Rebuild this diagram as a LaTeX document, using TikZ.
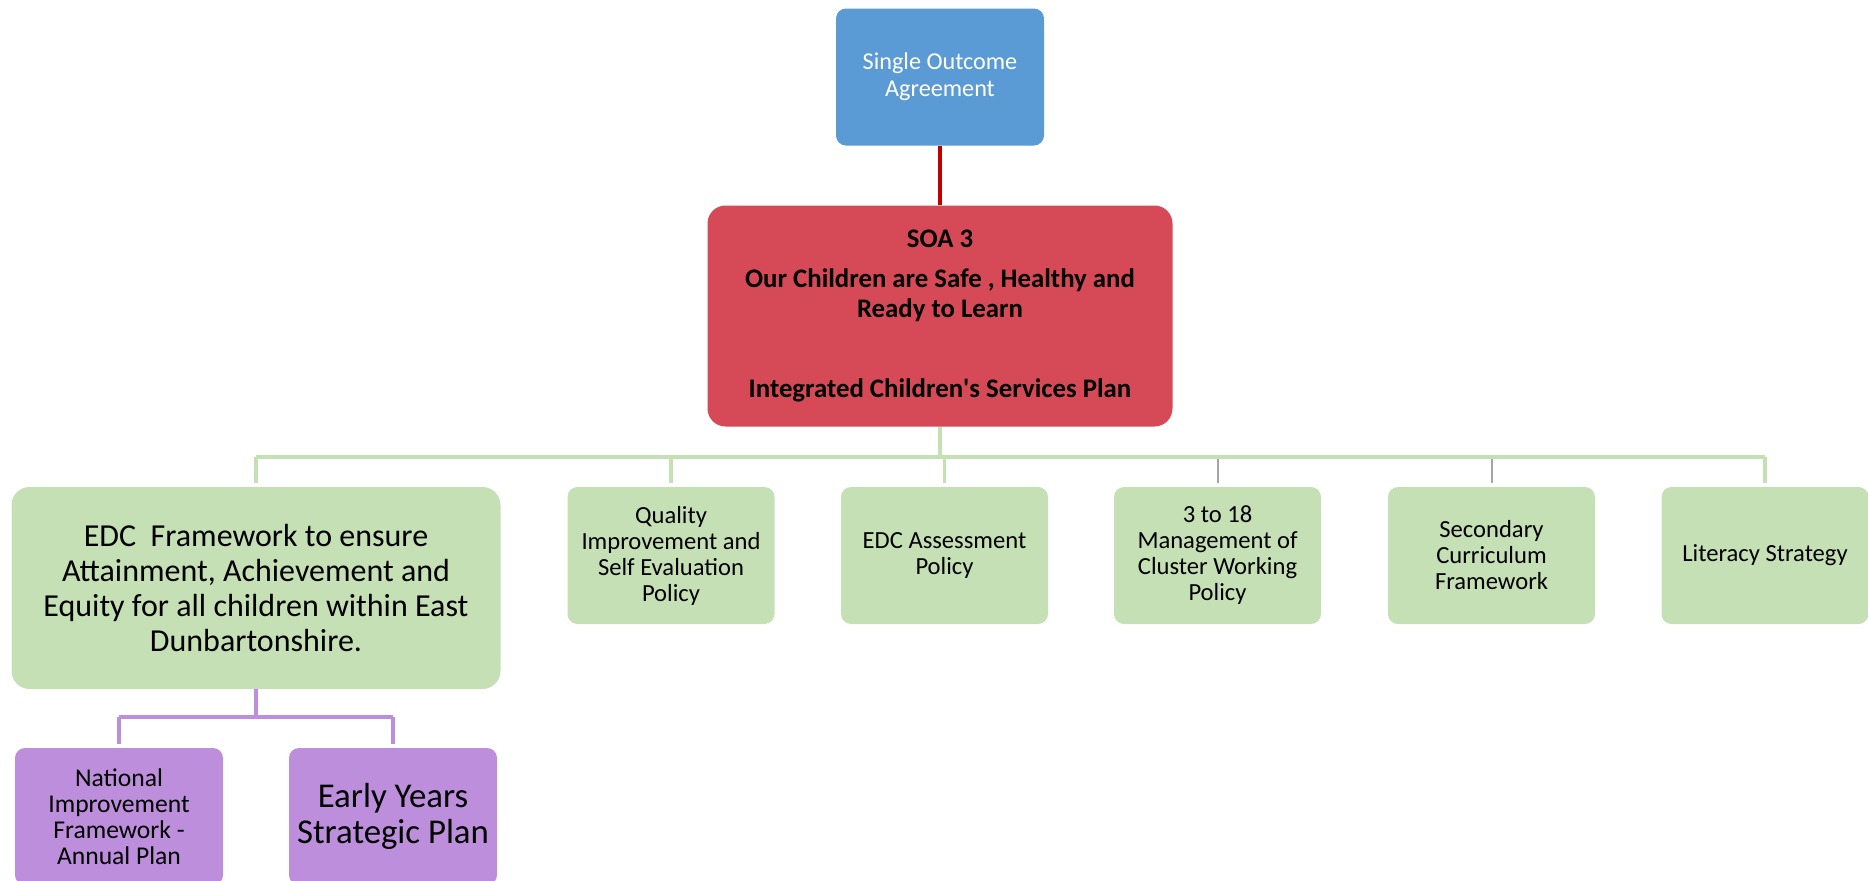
\documentclass[tikz,border=0pt]{standalone}
\usepackage{fontspec}
\setmainfont{Carlito}
\definecolor{soablue}{HTML}{5B9BD5}
\definecolor{soared}{HTML}{D64957}
\definecolor{linkred}{HTML}{C00000}
\definecolor{boxgreen}{HTML}{C5E0B4}
\definecolor{boxpurple}{HTML}{BC8EDC}
\definecolor{linkgray}{HTML}{A5A5A5}
\begin{document}
\begin{tikzpicture}[x=0.5pt,y=-0.5pt,
  box/.style={rounded corners=5pt,inner sep=0pt,align=center,text=black},
  smallbox/.style={box,fill=boxgreen,minimum width=103.5pt,minimum height=68.5pt,font=\fontsize{12.3}{13}\selectfont},
  purplebox/.style={box,fill=boxpurple,minimum width=104pt,minimum height=68.5pt},
  greenlink/.style={draw=boxgreen,line width=1.6pt},
  graylink/.style={draw=linkgray,line width=1pt},
  purplelink/.style={draw=boxpurple,line width=1.6pt},
]
\useasboundingbox (0,0) rectangle (1868,880);
\node[box,fill=soablue,text=white,minimum width=104pt,minimum height=68.5pt,font=\fontsize{12.1}{13.5}\selectfont] (soa) at (940,77) {Single Outcome\\Agreement};
\node[box,rounded corners=9pt,fill=soared,minimum width=232.5pt,minimum height=110.5pt,font=\fontsize{13.4}{15}\selectfont\bfseries] (soa3) at (940,316) {SOA 3\\[5pt]Our Children are Safe , Healthy and\\Ready to Learn\\[25pt]Integrated Children\textquotesingle s Services Plan};
\node[box,rounded corners=9pt,fill=boxgreen,minimum width=244.5pt,minimum height=101pt,font=\fontsize{16}{17.5}\selectfont] (edc) at (256,588) {EDC\ \ Framework to ensure\\Attainment, Achievement and\\Equity for all children within East\\Dunbartonshire.};
\node[smallbox] (qual) at (671,555.5) {Quality\\Improvement and\\Self Evaluation\\Policy};
\node[smallbox] (assess) at (944.5,555.5) {EDC Assessment\\Policy};
\node[smallbox] (cluster) at (1217.5,555.5) {3 to 18\\Management of\\Cluster Working\\Policy};
\node[smallbox] (second) at (1491.5,555.5) {Secondary\\Curriculum\\Framework};
\node[smallbox] (lit) at (1765,555.5) {Literacy Strategy};
\node[purplebox,font=\fontsize{12.8}{13}\selectfont] (nif) at (119,816.5) {National\\Improvement\\Framework -\\Annual Plan};
\node[purplebox,font=\fontsize{17.4}{18}\selectfont] (early) at (393,816.5) {Early Years\\Strategic Plan};
\coordinate (bus) at (0,457);
\coordinate (pbus) at (0,717);
% red link
\draw[draw=linkred,line width=2pt] (soa.south) -- (soa3.north);
% green tree
\draw[greenlink] (soa3.south) -- (soa3.south |- bus);
\draw[greenlink] (edc.north |- bus) -- (lit.north |- bus);
\draw[greenlink,shorten >=2pt] (edc.north |- bus) -- (edc.north);
\draw[greenlink,shorten >=2pt] (qual.north |- bus) -- (qual.north);
\draw[greenlink,shorten >=2pt] (assess.north |- bus) -- (assess.north);
\draw[graylink,shorten >=2pt,shorten <=0.8pt] (cluster.north |- bus) -- (cluster.north);
\draw[graylink,shorten >=2pt,shorten <=0.8pt] (second.north |- bus) -- (second.north);
\draw[greenlink,shorten >=2pt] (lit.north |- bus) -- (lit.north);
% purple tree
\draw[purplelink] (edc.south) -- (edc.south |- pbus);
\draw[purplelink] (nif.north |- pbus) -- (early.north |- pbus);
\draw[purplelink,shorten >=2pt] (nif.north |- pbus) -- (nif.north);
\draw[purplelink,shorten >=2pt] (early.north |- pbus) -- (early.north);
\end{tikzpicture}
\end{document}
